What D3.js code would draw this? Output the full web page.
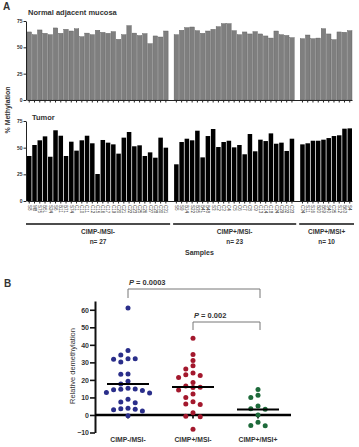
<!DOCTYPE html>
<html>
<head>
<meta charset="utf-8">
<script src="https://cdn.jsdelivr.net/npm/d3@7"></script>
<style>
body { margin: 0; background: #fff; font-family: "Liberation Sans", Arial, sans-serif; }
.axis text { fill: #333; }
</style>
</head>
<body>
<div id="chart"></div>
<script>
// groups and sample names
var groups = ["CIMP-/MSI-", "CIMP+/MSI-", "CIMP+/MSI+"];
var groupN = [27, 23, 10];
var samples1 = ["S8","M8","S75","B5L","S24","S6","B11","B71","S74","C1","C10","C11","C12","C15","C16","C17","C19","C20","C21","C22","C23","C25","C26","C27","C28","C30","C31"];
var samples2 = ["S5","S9","B14","S22","B35","B41","B48","S3","C2","C3","C4","C5","C6","C7","C8","C9","C13","C14","C18","C24","C29","C32","C33"];
var samples3 = ["C34","S11","S16","B20","B59","S40","C35","S12","B63","S4"];

// % methylation, normal adjacent mucosa
var normal1 = [64.6,62,66.5,63.3,62,68.4,63.3,67.1,65.5,67.6,60.1,63.5,62,66.2,64.2,63.3,64.9,57.6,62,70.6,63.5,61.2,63,53.5,60.8,59.8,65.5];
var normal2 = [62,66.2,68.7,69.3,65.8,63.3,65.5,67.1,69.6,72.5,72.5,65.8,62,64.6,62.7,64.9,62.7,60.8,58.8,65.5,62,61.3,59.2];
var normal3 = [58.2,61.7,58.2,58.8,67.7,62.7,57.3,64.6,64.3,65.8];

// % methylation, tumor
var tumor1 = [42.2,52.5,56.9,60.6,41.5,66.3,61.2,42.2,55.6,47.2,56.9,61.2,54.1,25.3,57.2,54.7,53.1,44.4,59.4,64.7,51.3,52.2,42.2,45.6,40.6,59.4,50];
var tumor2 = [34.4,55.3,58.4,56.9,65.9,40.9,60.9,67.5,50.6,55.3,56.5,50.3,52.5,43.8,62.8,46.6,57.5,56.2,63.4,53.7,54.7,46.9,58.4];
var tumor3 = [53.1,54.1,56.5,56.5,57.5,59,60.9,61.6,67.8,68.1];

// relative demethylation (panel B)
var demethBlue = [61,36.8,34.2,32,32,31.8,30.2,23.4,23.2,19.2,17.6,15.2,14.8,14.6,14.4,14,12.8,12.5,9,7.4,7,3.8,3.5,3.2,3,2.2,-0.5];
var demethRed = [43.8,34.5,31,28,26.2,24,23,22.5,21.4,18.5,16.5,15.8,15.6,14.2,12,10,7.6,6.2,6,1.3,-0.8,-1,-8.2];
var demethGreen = [14.5,11.2,10,5.1,3.5,3.2,0,-4.2,-6.2,-6];
var pLabels = ["0.0003", "0.002"];

var W = 359, H = 447;
var svg = d3.select("#chart").append("svg")
    .attr("width", W)
    .attr("height", H)
    .style("font-family", "'Liberation Sans', Arial, sans-serif");

// ---------- Panel A ----------
var allSamples = samples1.concat(["gap1"], samples2, ["gap2"], samples3);
var sampleList = samples1.concat(samples2, samples3);
var normalVals = normal1.concat(normal2, normal3);
var tumorVals = tumor1.concat(tumor2, tumor3);

var x = d3.scaleBand()
    .domain(allSamples)
    .range([27, 352])
    .paddingInner(0.14);

var yN = d3.scaleLinear().domain([0, 75]).range([100, 21]);
var yT = d3.scaleLinear().domain([0, 75]).range([201, 121]);

svg.append("text").attr("x", 3).attr("y", 10)
    .style("font-size", "10px").style("font-weight", "bold").attr("fill", "#333").text("A");

svg.append("text").attr("x", 28).attr("y", 15)
    .style("font-size", "7.5px").style("font-weight", "bold").attr("fill", "#333")
    .text("Normal adjacent  mucosa");

svg.append("text").attr("x", 32).attr("y", 120)
    .style("font-size", "7.5px").style("font-weight", "bold").attr("fill", "#333")
    .text("Tumor");

svg.append("text")
    .attr("transform", "translate(10,110) rotate(-90)")
    .attr("text-anchor", "middle")
    .style("font-size", "7px").style("font-weight", "bold").attr("fill", "#333")
    .text("% Methylation");

// normal bars
svg.append("g").selectAll("rect")
    .data(sampleList)
    .enter().append("rect")
    .attr("x", function(d) { return x(d); })
    .attr("width", x.bandwidth())
    .attr("y", function(d, i) { return yN(normalVals[i]); })
    .attr("height", function(d, i) { return yN(0) - yN(normalVals[i]); })
    .attr("fill", "#7f7f7f")
    .attr("stroke", "#5a5a5a")
    .attr("stroke-width", 0.4);

// tumor bars
svg.append("g").selectAll("rect")
    .data(sampleList)
    .enter().append("rect")
    .attr("x", function(d) { return x(d); })
    .attr("width", x.bandwidth())
    .attr("y", function(d, i) { return yT(tumorVals[i]); })
    .attr("height", function(d, i) { return yT(0) - yT(tumorVals[i]); })
    .attr("fill", "#000");

function styleAxis(g, size) {
    g.selectAll("text").style("font-size", size).style("font-weight", "bold").attr("fill", "#444");
    g.selectAll("line").attr("stroke", "#222");
    g.select(".domain").attr("stroke", "#222");
}

[yN, yT].forEach(function(ys) {
    var g = svg.append("g")
        .attr("class", "axis")
        .attr("transform", "translate(26,0)")
        .call(d3.axisLeft(ys).tickValues([0, 25, 50, 75]).tickSize(2.5).tickPadding(1).tickSizeOuter(0));
    styleAxis(g, "5px");
});

var gxN = svg.append("g")
    .attr("class", "axis")
    .attr("transform", "translate(0,100)")
    .call(d3.axisBottom(x).tickValues(sampleList).tickSize(2.5).tickSizeOuter(0).tickFormat(""));
styleAxis(gxN, "5px");

var gxT = svg.append("g")
    .attr("class", "axis")
    .attr("transform", "translate(0,201)")
    .call(d3.axisBottom(x).tickValues(sampleList).tickSize(2.5).tickSizeOuter(0));
styleAxis(gxT, "4.5px");
gxT.selectAll("text")
    .attr("transform", "rotate(90)")
    .attr("x", 4).attr("y", 0).attr("dy", "0.35em")
    .style("text-anchor", "start")
    .style("font-weight", "normal")
    .attr("fill", "#666");

// group brackets
var groupSamples = [samples1, samples2, samples3];
groupSamples.forEach(function(s, i) {
    var x0 = x(s[0]) - 1, x1 = x(s[s.length - 1]) + x.bandwidth() + 2;
    svg.append("line")
        .attr("x1", x0).attr("x2", x1).attr("y1", 224).attr("y2", 224)
        .attr("stroke", "#111").attr("stroke-width", 1.3);
    var cx = (x0 + x1) / 2;
    svg.append("text").attr("x", cx).attr("y", 234)
        .attr("text-anchor", "middle")
        .style("font-size", "6.5px").style("font-weight", "bold").attr("fill", "#333")
        .text(groups[i]);
    svg.append("text").attr("x", cx).attr("y", 244)
        .attr("text-anchor", "middle")
        .style("font-size", "6.5px").style("font-weight", "bold").attr("fill", "#333")
        .text("n= " + groupN[i]);
});

svg.append("text").attr("x", 185).attr("y", 255)
    .style("font-size", "7px").style("font-weight", "bold").attr("fill", "#333")
    .text("Samples");

// ---------- Panel B ----------
svg.append("text").attr("x", 4).attr("y", 287)
    .style("font-size", "10px").style("font-weight", "bold").attr("fill", "#333").text("B");

var xB = d3.scalePoint().domain(groups).range([128, 258]);
var yB = d3.scaleLinear().domain([-10, 65]).range([432.5, 301]);

var gyB = svg.append("g")
    .attr("class", "axis")
    .attr("transform", "translate(95,0)")
    .call(d3.axisLeft(yB).tickValues(d3.range(-10, 61, 10)).tickSize(5).tickPadding(1).tickSizeOuter(0));
styleAxis(gyB, "7px");
gyB.select(".domain").attr("stroke-width", 2).attr("stroke", "#111");
gyB.selectAll("line").attr("stroke-width", 1.6).attr("stroke", "#111");

svg.append("text")
    .attr("transform", "translate(75,366) rotate(-90)")
    .attr("text-anchor", "middle")
    .style("font-size", "7.5px").attr("fill", "#333")
    .text("Relative demethylation");

// zero line
svg.append("line")
    .attr("x1", 95).attr("x2", 291)
    .attr("y1", yB(0)).attr("y2", yB(0))
    .attr("stroke", "#000").attr("stroke-width", 2.5);

groups.forEach(function(g) {
    svg.append("line")
        .attr("x1", xB(g)).attr("x2", xB(g))
        .attr("y1", yB(0)).attr("y2", yB(0) + 3.5)
        .attr("stroke", "#000").attr("stroke-width", 1.6);
    svg.append("text")
        .attr("x", xB(g)).attr("y", 442)
        .attr("text-anchor", "middle")
        .style("font-size", "6.8px").style("font-weight", "bold").attr("fill", "#333")
        .text(g);
});

// simple swarm layout
function swarm(vals, cx, r, step) {
    var placed = [];
    var sorted = vals.slice().sort(function(a, b) { return b - a; });
    var offsets = [0, -1, 1, -2, 2, -3, 3, -4, 4];
    sorted.forEach(function(v) {
        var cy = yB(v);
        for (var k = 0; k < offsets.length; k++) {
            var px = cx + offsets[k] * step;
            var ok = placed.every(function(p) {
                var dx = p.x - px, dy = p.y - cy;
                return Math.sqrt(dx * dx + dy * dy) >= 2 * r;
            });
            if (ok) { placed.push({ x: px, y: cy, v: v }); break; }
        }
    });
    return placed;
}

var scatterSets = [
    { name: groups[0], vals: demethBlue, color: "#2a2e8a" },
    { name: groups[1], vals: demethRed, color: "#a3182d" },
    { name: groups[2], vals: demethGreen, color: "#1d6a3a" }
];

scatterSets.forEach(function(s) {
    var pts = swarm(s.vals, xB(s.name), 2.5, 7.2);
    svg.append("g").selectAll("circle")
        .data(pts)
        .enter().append("circle")
        .attr("cx", function(d) { return d.x; })
        .attr("cy", function(d) { return d.y; })
        .attr("r", 2.5)
        .attr("fill", s.color);
    var m = d3.mean(s.vals);
    svg.append("line")
        .attr("x1", xB(s.name) - 21).attr("x2", xB(s.name) + 21)
        .attr("y1", yB(m)).attr("y2", yB(m))
        .attr("stroke", "#000").attr("stroke-width", 2);
});

// significance brackets
var brackets = [
    { from: groups[0], to: groups[2], top: 289, drop: 9, p: pLabels[0] },
    { from: groups[1], to: groups[2], top: 322, drop: 8, p: pLabels[1] }
];
brackets.forEach(function(b) {
    var x0 = xB(b.from), x1 = xB(b.to) + 2;
    svg.append("path")
        .attr("d", "M" + x0 + "," + (b.top + b.drop) + "V" + b.top + "H" + x1 + "V" + (b.top + b.drop))
        .attr("fill", "none").attr("stroke", "#777").attr("stroke-width", 1);
    var t = svg.append("text")
        .attr("x", x0 + 1).attr("y", b.top - 4)
        .style("font-size", "7.5px").style("font-weight", "bold").attr("fill", "#333");
    t.append("tspan").style("font-style", "italic").text("P");
    t.append("tspan").text(" = " + b.p);
});
</script>
</body>
</html>
